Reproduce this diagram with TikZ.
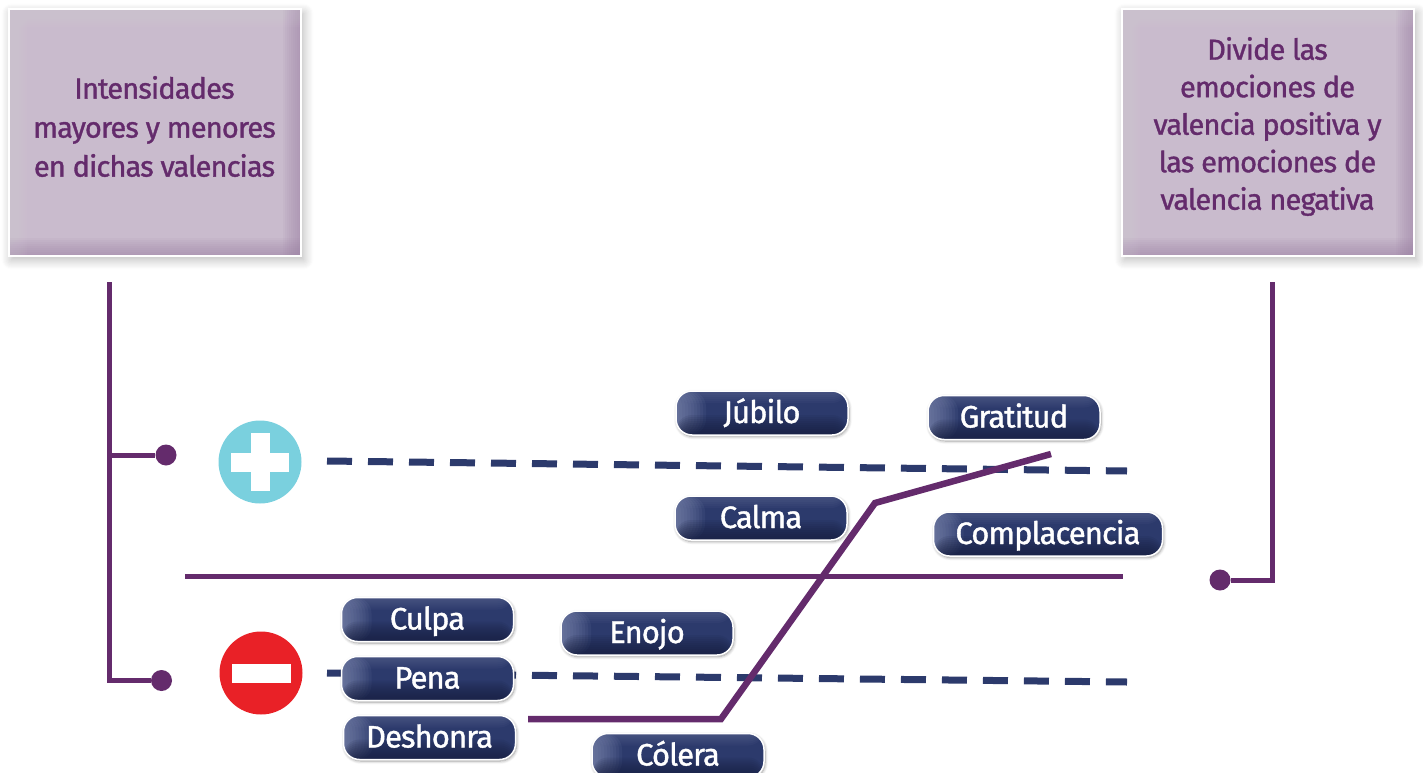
\documentclass[tikz,border=0pt]{standalone}
\usepackage{fontspec}
\setmainfont{Fira Sans}
\newfontfamily\heavyfont[FakeBold=1.2,LetterSpace=-3]{Fira Sans}
\usetikzlibrary{positioning,shadows.blur}
\definecolor{plum}{HTML}{642B6C}
\definecolor{navy}{HTML}{2C3A6C}
\definecolor{navydark}{HTML}{161D3C}
\definecolor{navylight}{HTML}{8F98BC}
\definecolor{lilac}{HTML}{C9BBCD}
\definecolor{lilacdark}{HTML}{9C82A4}
\definecolor{lilaclight}{HTML}{DDD3E0}
\definecolor{plusblue}{HTML}{7AD0DE}
\definecolor{minusred}{HTML}{E92127}
\tikzset{
    pill/.style={draw=white,line width=1.5pt,fill=navy,rounded corners=16pt,
        minimum width=172pt,minimum height=44pt,inner sep=0pt,text=white,
        font=\heavyfont\fontsize{31}{31}\selectfont,text height=20pt,text depth=0pt,
        blur shadow={shadow xshift=1pt,shadow yshift=-1.5pt,shadow blur steps=6,shadow blur radius=3pt},
        path picture={
            \foreach \i in {3,6,...,30}
                \fill[navylight,opacity=.09] (path picture bounding box.north west)
                    rectangle ([xshift=\i pt]path picture bounding box.south west);
            \foreach \i in {2,4,...,12}
                \fill[navylight,opacity=.05] (path picture bounding box.north west)
                    rectangle ([yshift=-\i pt]path picture bounding box.north east);
            \foreach \i in {2,4,...,20}
                \fill[navydark,opacity=.1] (path picture bounding box.south west)
                    rectangle ([yshift=\i pt]path picture bounding box.south east);
        }},
    infobox/.style={draw=white,line width=2pt,fill=lilac,minimum width=292pt,minimum height=246pt,
        blur shadow={shadow xshift=3pt,shadow yshift=-4pt,shadow blur steps=10,shadow blur radius=10pt,shadow opacity=30},
        path picture={
            \foreach \i in {2,4,...,18} {
                \fill[lilacdark,opacity=.08] (path picture bounding box.north east)
                    rectangle ([xshift=-\i pt]path picture bounding box.south east);
                \fill[lilacdark,opacity=.08] (path picture bounding box.south west)
                    rectangle ([yshift=\i pt]path picture bounding box.south east);
                \fill[lilaclight,opacity=.05] (path picture bounding box.north west)
                    rectangle ([xshift=\i pt]path picture bounding box.south west);
                \fill[lilaclight,opacity=.05] (path picture bounding box.north west)
                    rectangle ([yshift=-\i pt]path picture bounding box.north east);
            }
        }},
    boxtext/.style={text=plum,align=center,inner sep=0pt},
    dot/.style={circle,fill=plum,minimum size=21pt,inner sep=0pt},
    badge/.style={circle,minimum size=83pt,inner sep=0pt},
    bar/.style={fill=white,inner sep=0pt},
    rule/.style={draw=plum,line width=5pt},
    scale line/.style={draw=navy,line width=7pt,dash pattern=on 25pt off 16pt}
}
\begin{document}
\begin{tikzpicture}[x=1pt,y=-1pt]
    \useasboundingbox (0,0) rectangle (1423,773);
    % Top boxes
    \node[infobox] (intensity) at (154.5,132.5) {};
    \node[infobox] (valence) at (1267.5,132.5) {};
    \node[boxtext,font=\heavyfont\fontsize{29}{39}\selectfont] (intensitytext) at ([yshift=6pt]intensity) {Intensidades\\mayores y menores\\en dichas valencias};
    \node[boxtext,font=\heavyfont\fontsize{29}{37.5}\selectfont] (valencetext) at ([yshift=6pt]valence) {Divide las\\emociones de\\valencia positiva y\\las emociones de\\valencia negativa};

    % Badges
    \node[badge,fill=plusblue] (plus) at (260,462) {};
    \node[bar,minimum width=58pt,minimum height=19pt] (plusH) at (plus) {};
    \node[bar,minimum width=19pt,minimum height=58pt] (plusV) at (plus) {};
    \node[badge,fill=minusred] (minus) at (261,673) {};
    \node[bar,minimum width=59pt,minimum height=19pt] (minusH) at (minus) {};

    % Bracket ends
    \node[dot] (dotplus) at (166,455) {};
    \node[dot] (dotminus) at (161.5,680.5) {};
    \node[dot] (dotmid) at (1220,580) {};
    \coordinate (leftstart) at (109,282);
    \coordinate (rightstart) at (1272,282);
    \coordinate (midstart) at (185,576);
    \coordinate (midend) at (1123,576);
    \coordinate (upstart) at (327,461);
    \coordinate (upend) at (1127,471);
    \coordinate (lowstart) at (327,673);
    \coordinate (lowend) at (1127,682);
    \coordinate (curveA) at (528,719);
    \coordinate (curveB) at (721,719);
    \coordinate (curveC) at (875,503);
    \coordinate (curveD) at (1051,454);

    \draw[rule] (leftstart) |- (dotminus);
    \draw[rule] (leftstart |- dotplus) -- (dotplus);
    \draw[rule] (rightstart) |- (dotmid);
    \draw[rule] (midstart) -- (midend);
    \path[scale line] (upstart) -- (upend);
    \path[scale line] (lowstart) -- (lowend);
    \draw[plum,line width=6.5pt,line join=miter] (curveA) -- (curveB) -- (curveC) -- (curveD);

    % Emotions
    \node[pill] (calma) at (761,518) {Calma};
    \node[pill,above of=calma,node distance=105pt,xshift=1pt] (jubilo) {Júbilo};
    \node[pill] (gratitud) at (1014,417.5) {Gratitud};
    \node[pill,minimum width=229pt] (complacencia) at (1048,534) {Complacencia};
    \node[pill] (pena) at (427.5,678.5) {Pena};
    \node[pill,above of=pena,node distance=59pt] (culpa) {Culpa};
    \node[pill,below of=pena,node distance=59pt,xshift=2pt] (deshonra) {Deshonra};
    \node[pill] (enojo) at (647,633) {Enojo};
    \node[pill] (colera) at (678,755.5) {Cólera};
\end{tikzpicture}
\end{document}
